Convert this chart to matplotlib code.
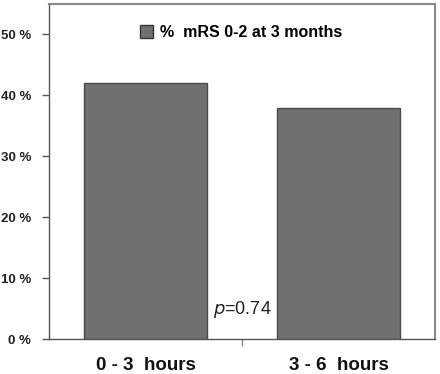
import matplotlib
matplotlib.use("Agg")
import matplotlib.pyplot as plt
from matplotlib.patches import Rectangle

categories = ["0 - 3  hours", "3 - 6  hours"]
values = [42, 38]
yticks = [0, 10, 20, 30, 40, 50]
ytick_labels = ["0 %", "10 %", "20 %", "30 %", "40 %", "50 %"]
legend_label = "%  mRS 0-2 at 3 months"
p_text = "$\\it{p}$=0.74"

plt.rcParams['font.family'] = ['Liberation Sans', 'DejaVu Sans']

fig = plt.figure(figsize=(4.4, 3.74), dpi=100)
ax = fig.add_axes([49/440, 1-339/374, (435-49)/440, (339-4)/374])

x = [0, 1]
ax.bar(x, values, width=0.64, color='#707070', edgecolor='#4a4a4a', linewidth=1.0, zorder=2)
ax.set_xlim(-0.5, 1.5)
ax.set_ylim(0, 55)
ax.set_yticks(yticks)
ax.set_yticklabels(ytick_labels, fontsize=9.5, fontweight='bold', color='#222222')
ax.set_xticks([0.5])
ax.set_xticklabels([''])
ax.tick_params(axis='y', length=5, width=1, color='#555555', pad=8)
ax.tick_params(axis='x', length=5, width=1, color='#888888')

for sp in ['top', 'right']:
    ax.spines[sp].set_color('#8a8a8a')
    ax.spines[sp].set_linewidth(1.5)
for sp in ['left', 'bottom']:
    ax.spines[sp].set_color('#555555')
    ax.spines[sp].set_linewidth(1.0)

for xi, c in zip(x, categories):
    ax.text(xi, -4.3, c, ha='center', va='center', fontsize=13.5, fontweight='bold', color='#111111')

ax.text(0.5, 4.8, p_text, ha='center', va='center', fontsize=13, color='#222222')

leg_handle = Rectangle((0, 0), 1, 1, facecolor='#707070', edgecolor='#333333')
leg = ax.legend([leg_handle], [legend_label], loc='center', bbox_to_anchor=(0.497, 0.915),
                frameon=False, prop={'weight': 'bold', 'size': 11.5},
                handlelength=0.8, handleheight=0.8, handletextpad=0.45)

fig.savefig("out.png", dpi=100)
